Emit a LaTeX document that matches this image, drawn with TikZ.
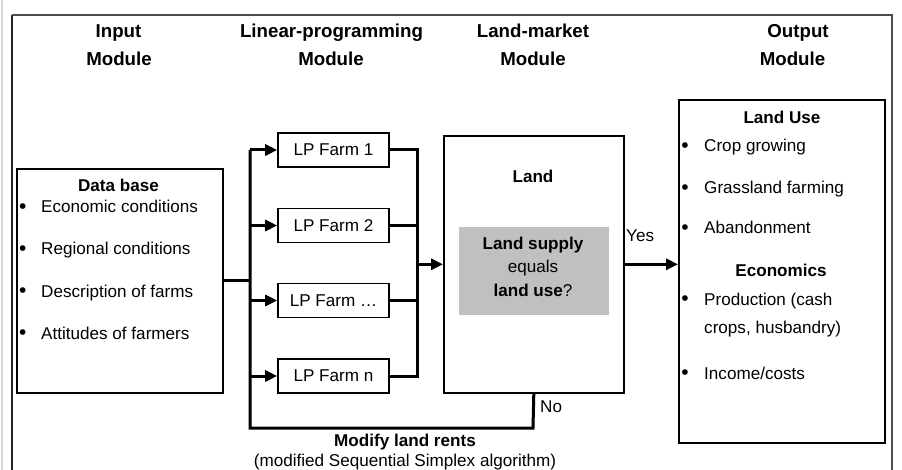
\documentclass[tikz,border=0pt]{standalone}
\usepackage{fontspec}
\setmainfont{Liberation Sans}
\usetikzlibrary{arrows.meta}
\definecolor{boxgray}{RGB}{192,192,192}
\begin{document}
\begin{tikzpicture}[x=1pt,y=-1pt,
  txt/.style={inner sep=0pt, anchor=base, font=\fontsize{17.1}{20}\selectfont},
  txtl/.style={txt, anchor=base west},
  btxt/.style={txt, font=\fontsize{17.1}{20}\selectfont\bfseries},
  hdr/.style={inner sep=0pt, anchor=base, font=\fontsize{18.7}{22}\selectfont\bfseries},
  bul/.style={inner sep=0pt, anchor=center, font=\fontsize{21}{24}\selectfont},
  box/.style={draw, line width=1.6pt, inner sep=0pt, anchor=north west},
  lpbox/.style={draw, line width=1.6pt, inner sep=0pt, minimum width=111pt, minimum height=34pt, font=\fontsize{17.1}{20}\selectfont},
  conn/.style={line width=3pt, line join=miter},
  arr/.style={conn, -{Triangle[length=12pt,width=11pt]}}
]
\useasboundingbox (0,0) rectangle (902,470);
% page edge and frame
\draw[black!15, line width=2pt] (1.5,0) -- (1.5,470);
\coordinate (fBL) at (12,470);
\coordinate (fTL) at (12,15);
\coordinate (fTR) at (892,15);
\coordinate (fBR) at (892,470);
\draw[black!85, line width=1.6pt] (fBL) -- (fTL);
\draw[black!70, line width=1.6pt] (fTL) -- (fTR) -- (fBR);

% headers
\node[hdr] (h1a) at (118.5,38) {Input};
\node[hdr] (h1b) at (119,66) {Module};
\node[hdr] (h2a) at (331.5,38) {Linear-programming};
\node[hdr] (h2b) at (331,66) {Module};
\node[hdr] (h3a) at (533,38) {Land-market};
\node[hdr] (h3b) at (533,66) {Module};
\node[hdr] (h4a) at (798,38) {Output};
\node[hdr] (h4b) at (792.5,66) {Module};

% input box
\node[box, minimum width=206pt, minimum height=224pt] (inp) at (16,168) {};
\node[btxt] (db) at (118.5,192) {Data base};
\node[bul] (ib1) at (22.7,208.5) {•};
\node[txtl] (it1) at (41,213) {Economic conditions};
\node[bul] (ib2) at (22.7,250.5) {•};
\node[txtl] (it2) at (41,255) {Regional conditions};
\node[bul] (ib3) at (22.7,293) {•};
\node[txtl] (it3) at (41,297.5) {Description of farms};
\node[bul] (ib4) at (22.7,335) {•};
\node[txtl] (it4) at (41,339.5) {Attitudes of farmers};

% LP boxes
\node[lpbox] (lp1) at (333.5,150) {LP Farm 1};
\node[lpbox] (lp2) at (333.5,225.5) {LP Farm 2};
\node[lpbox] (lp3) at (333.5,300.5) {LP Farm …};
\node[lpbox] (lpn) at (333.5,376) {LP Farm n};

% land box
\node[box, minimum width=180pt, minimum height=257pt] (land) at (443,135) {};
\node[btxt] (landt) at (533,183) {Land};
\node[box, draw=none, fill=boxgray, minimum width=150pt, minimum height=88pt] (q) at (458,226) {};
\node[btxt] (q1) at (533,249.5) {Land supply};
\node[txt] (q2) at (533,273) {equals};
\node[txt] (q3) at (533,297) {\textbf{land use}?};

% output box
\node[box, minimum width=206pt, minimum height=343pt] (out) at (678,99) {};
\node[btxt] (lu) at (782,123.3) {Land Use};
\node[bul] (ob1) at (685,147.5) {•};
\node[txtl] (ot1) at (704,152) {Crop growing};
\node[bul] (ob2) at (685,189.5) {•};
\node[txtl] (ot2) at (704,194) {Grassland farming};
\node[bul] (ob3) at (685,229.5) {•};
\node[txtl] (ot3) at (704,234) {Abandonment};
\node[btxt] (eco) at (781,277) {Economics};
\node[bul] (ob4) at (685,301) {•};
\node[txtl] (ot4) at (704,305.5) {Production (cash};
\node[txtl] (ot5) at (704,334) {crops, husbandry)};
\node[bul] (ob5) at (685,374.5) {•};
\node[txtl] (ot6) at (704,379) {Income/costs};

% connectors
\coordinate (busTop) at (250,150);
\coordinate (loopL) at (250,428);
\coordinate (loopR) at (533,428);
\coordinate (rTop) at (417,150);
\coordinate (rBot) at (417,376);

\draw[conn] (inp.east) -- (inp.east -| busTop);
\draw[conn] (land.south) -- (loopR) -- (loopL) -- (busTop);
\draw[arr] (busTop) -- (lp1.west);
\draw[arr] (lp2.west -| busTop) -- (lp2.west);
\draw[arr] (lp3.west -| busTop) -- (lp3.west);
\draw[arr] (lpn.west -| busTop) -- (lpn.west);

\draw[conn] (lp1.east) -- (rTop) -- (rBot) -- (lpn.east);
\draw[conn] (lp2.east) -- (lp2.east -| rTop);
\draw[conn] (lp3.east) -- (lp3.east -| rTop);
\draw[arr] (land.west -| rTop) -- (land.west);

\draw[arr] (land.east) -- (land.east -| out.west);

\node[txtl] (yes) at (626,241.5) {Yes};
\node[txtl] (no) at (540,412) {No};
\node[btxt] (mod1) at (405,446.5) {Modify land rents};
\node[txt] (mod2) at (405,466) {(modified Sequential Simplex algorithm)};
\end{tikzpicture}
\end{document}
